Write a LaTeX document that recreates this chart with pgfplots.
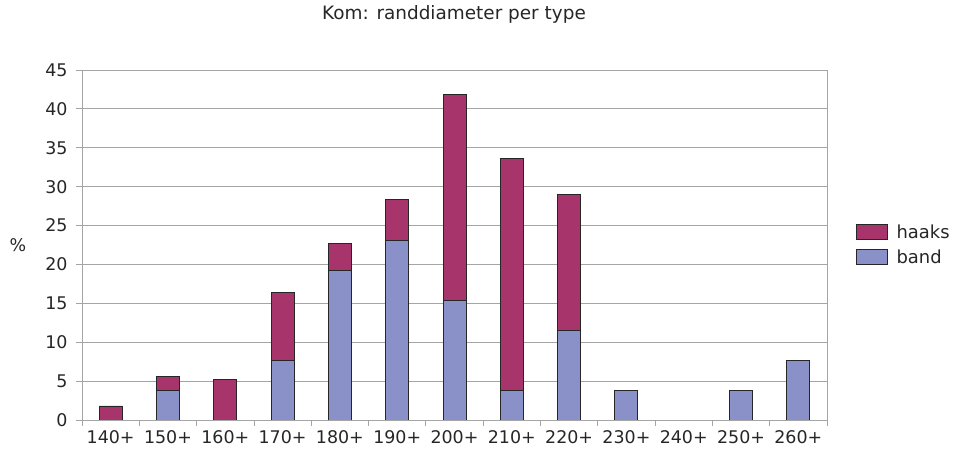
\documentclass[border=0pt]{standalone}
\usepackage{pgfplots}
\pgfplotsset{compat=1.18}
\usepackage{fontspec}
\setmainfont{DejaVu Sans}
\definecolor{haaks}{RGB}{168,52,108}
\definecolor{band}{RGB}{138,144,200}
\definecolor{gridc}{RGB}{165,165,165}
\begin{document}
\begin{tikzpicture}
\useasboundingbox (-82bp,-35bp) rectangle (876bp,420bp);
\begin{axis}[
  scale only axis,
  width=745bp, height=350bp,
  ybar stacked,
  bar width=23bp,
  xmin=-0.5, xmax=12.5,
  ymin=0, ymax=45,
  ytick={0,5,...,45},
  xtick={0,...,12},
  xticklabels={140+,150+,160+,170+,180+,190+,200+,210+,220+,230+,240+,250+,260+},
  minor xtick={-0.5,0.5,...,12.5},
  major x tick style={draw=none},
  tick pos=left,
  tick align=outside,
  tick style={gridc, line width=0.8pt},
  major tick length=6bp,
  minor tick length=6bp,
  axis line style={gridc, line width=0.8pt},
  ymajorgrids,
  grid style={gridc, line width=1pt},
  /pgf/number format/assume math mode=true,
  ticklabel style={font=\fontsize{17.5}{20}\selectfont, text=black!85},
  xticklabel style={yshift=-1bp},
  yticklabel style={xshift=-5bp},
  ylabel={\%},
  ylabel style={at={(axis description cs:-0.086,0.5)}, rotate=-90, anchor=center, font=\fontsize{17.5}{20}\selectfont, text=black!85},
  title={Kom: randdiameter per type},
  title style={at={(axis description cs:0.4993,1.143)}, anchor=center, font=\fontsize{18.5}{20}\selectfont, text=black!85},
  legend style={at={(axis description cs:1.034,0.5)}, anchor=west, draw=none, fill=none,
    font=\fontsize{18}{20}\selectfont, text=black!85, row sep=6bp,
    /tikz/every odd column/.append style={column sep=7bp}},
  legend image code/.code={\draw[#1, draw=black!85, line width=1pt] (0bp,-7bp) rectangle (31bp,8bp);},
  legend cell align=left,
  reverse legend,
  every axis plot/.append style={draw=black!85, line width=1pt},
]
\addplot[fill=band] coordinates {(0,0) (1,3.85) (2,0) (3,7.7) (4,19.2) (5,23.1) (6,15.4) (7,3.85) (8,11.5) (9,3.85) (10,0) (11,3.85) (12,7.7)};
\addplot[fill=haaks] coordinates {(0,1.8) (1,1.8) (2,5.25) (3,8.75) (4,3.55) (5,5.2) (6,26.4) (7,29.8) (8,17.55) (9,0) (10,0) (11,0) (12,0)};
\legend{band,haaks}
\end{axis}
\end{tikzpicture}
\end{document}
